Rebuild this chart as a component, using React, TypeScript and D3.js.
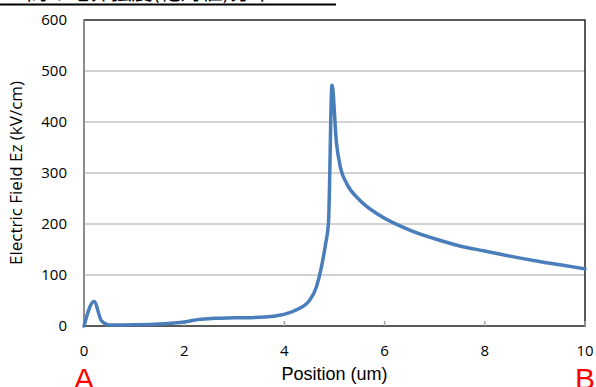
import React, { useEffect, useRef } from 'react';
import * as d3 from 'd3';

// position (um) and field (kV/cm)
const positions = [0, 0.2, 0.35, 0.5, 1, 1.5, 2, 2.3, 2.6, 3, 3.5, 3.9, 4.2, 4.5, 4.64, 4.74, 4.82, 4.88, 4.95, 5.04, 5.12, 5.24, 5.5, 5.9, 6.5, 7, 7.5, 8, 8.5, 9, 9.5, 10];
const fields = [0, 48, 10, 2, 2.5, 4, 8, 13, 15, 16, 17, 21, 30, 50, 77, 116, 160, 202, 472, 358, 310, 280, 247, 217, 188, 171, 157, 147, 137, 128, 120, 112];
const yTicks = [0, 100, 200, 300, 400, 500, 600];
const xTicks = [0, 2, 4, 6, 8, 10];
const title = 'AB間の電界強度(絶対値)分布';

const W = 596;
const H = 387;
const margin = { top: 20, right: 11, bottom: 61, left: 84 };

const App = () => {
  const ref = useRef<SVGSVGElement | null>(null);

  useEffect(() => {
    const svg = d3.select(ref.current);
    svg.selectAll('*').remove();

    const w = W - margin.left - margin.right;
    const h = H - margin.top - margin.bottom;
    const font = '"Open Sans", "Noto Sans", sans-serif';
    const arial = '"Liberation Sans", Arial, sans-serif';

    const x = d3.scaleLinear().domain([0, 10]).range([0, w]);
    const y = d3.scaleLinear().domain([0, 600]).range([h, 0]);

    // cut-off title at the very top, underlined
    svg.append('text')
      .attr('x', 0)
      .attr('y', -1)
      .attr('font-family', '"Noto Sans CJK JP", sans-serif')
      .attr('font-size', 21)
      .attr('fill', '#000')
      .text(title);
    svg.append('line')
      .attr('x1', 0).attr('x2', 336)
      .attr('y1', 4.5).attr('y2', 4.5)
      .attr('stroke', '#000')
      .attr('stroke-width', 2);

    const g = svg.append('g').attr('transform', `translate(${margin.left},${margin.top})`);

    // grid
    g.append('g')
      .selectAll('line')
      .data(yTicks.filter(d => d > 0 && d < 600))
      .join('line')
      .attr('x1', 0).attr('x2', w)
      .attr('y1', d => y(d)).attr('y2', d => y(d))
      .attr('stroke', '#a6a6a6')
      .attr('stroke-width', 1.2);

    // plot frame
    g.append('rect')
      .attr('x', 0).attr('y', 0)
      .attr('width', w).attr('height', h)
      .attr('fill', 'none')
      .attr('stroke', '#000')
      .attr('stroke-width', 1.3);

    // x ticks (inside, gray)
    g.append('g')
      .selectAll('line')
      .data(xTicks)
      .join('line')
      .attr('x1', d => x(d)).attr('x2', d => x(d))
      .attr('y1', h).attr('y2', h - 5)
      .attr('stroke', '#a6a6a6')
      .attr('stroke-width', 1.5);

    // left axis gray
    g.append('line')
      .attr('x1', 0).attr('x2', 0)
      .attr('y1', 0).attr('y2', h)
      .attr('stroke', '#8c8c8c')
      .attr('stroke-width', 2);

    // y tick labels
    g.append('g')
      .selectAll('text')
      .data(yTicks)
      .join('text')
      .attr('x', -17)
      .attr('y', d => y(d))
      .attr('dy', '0.35em')
      .attr('text-anchor', 'end')
      .attr('font-family', font)
      .attr('font-size', 15)
      .attr('fill', '#000')
      .text(d => d);

    // x tick labels
    g.append('g')
      .selectAll('text')
      .data(xTicks)
      .join('text')
      .attr('x', d => x(d))
      .attr('y', h + 30)
      .attr('text-anchor', 'middle')
      .attr('font-family', font)
      .attr('font-size', 15)
      .attr('fill', '#000')
      .text(d => d);

    // axis titles
    g.append('text')
      .attr('x', w / 2)
      .attr('y', h + 54)
      .attr('text-anchor', 'middle')
      .attr('font-family', arial)
      .attr('font-size', 18)
      .attr('fill', '#000')
      .text('Position (um)');

    g.append('text')
      .attr('transform', `translate(-62,${h / 2}) rotate(-90)`)
      .attr('text-anchor', 'middle')
      .attr('font-family', font)
      .attr('font-size', 17)
      .attr('fill', '#000')
      .text('Electric Field Ez (kV/cm)');

    // A / B end markers
    g.append('text')
      .attr('x', x(0))
      .attr('y', h + 63)
      .attr('text-anchor', 'middle')
      .attr('font-family', arial)
      .attr('font-size', 30)
      .attr('fill', '#ff0000')
      .text('A');
    g.append('text')
      .attr('x', x(10))
      .attr('y', h + 63)
      .attr('text-anchor', 'middle')
      .attr('font-family', arial)
      .attr('font-size', 30)
      .attr('fill', '#ff0000')
      .text('B');

    // data line
    const line = d3.line<number>()
      .x((d, i) => x(positions[i]))
      .y(d => y(d))
      .curve(d3.curveMonotoneX);

    g.append('path')
      .datum(fields)
      .attr('d', line)
      .attr('fill', 'none')
      .attr('stroke', '#4a7ebb')
      .attr('stroke-width', 3.5)
      .attr('stroke-linejoin', 'round')
      .attr('stroke-linecap', 'round');
  }, []);

  return (
    <svg
      ref={ref}
      width={W}
      height={H}
      style={{ position: 'absolute', left: 0, top: 0, background: '#fff' }}
    />
  );
};

export default App;
